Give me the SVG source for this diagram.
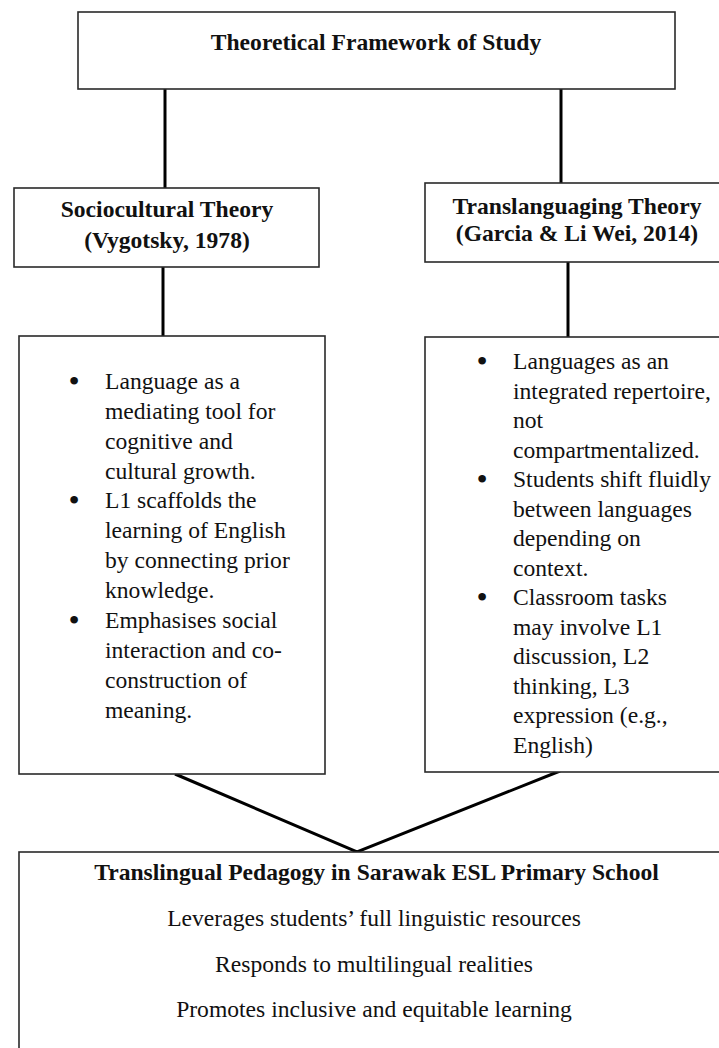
<svg xmlns="http://www.w3.org/2000/svg" width="719" height="1048" viewBox="0 0 719 1048">
<style>
.box{fill:#fff;stroke:#2a2a2a;stroke-width:1.6}
.conn{stroke:#000;stroke-width:3;fill:none;stroke-linecap:butt}
text{font-family:"Liberation Serif","Times New Roman",serif;font-size:23.6px;fill:#111}
.b{font-weight:bold}
.c{text-anchor:middle}
.dot{font-size:32px;text-anchor:middle}
</style>
<rect width="719" height="1048" fill="#fff"/>
<g id="connectors">
<line class="conn" x1="165" y1="89" x2="165" y2="188"/>
<line class="conn" x1="561" y1="89" x2="561" y2="183"/>
<line class="conn" x1="163" y1="267" x2="163" y2="336"/>
<line class="conn" x1="568" y1="262" x2="568" y2="337"/>
<polyline class="conn" points="175,774 357,852 560,771"/>
</g>
<g id="top">
<rect class="box" x="78" y="12" width="597" height="77"/>
<text class="b c" x="376" y="50">Theoretical Framework of Study</text>
</g>
<g id="sociocultural">
<rect class="box" x="14" y="188" width="305" height="79"/>
<text class="b c" x="167" y="217">Sociocultural Theory</text>
<text class="b c" x="167" y="248">(Vygotsky, 1978)</text>
</g>
<g id="translanguaging">
<rect class="box" x="425" y="183" width="310" height="79"/>
<text class="b c" x="577" y="214">Translanguaging Theory</text>
<text class="b c" x="577" y="241">(Garcia &amp; Li Wei, 2014)</text>
</g>
<g id="sociocultural-points">
<rect class="box" x="19" y="336" width="306" height="438"/>
<text class="dot" x="74" y="392">•</text>
<text x="105" y="389">Language as a</text>
<text x="105" y="419">mediating tool for</text>
<text x="105" y="449">cognitive and</text>
<text x="105" y="479">cultural growth.</text>
<text class="dot" x="74" y="511">•</text>
<text x="105" y="508">L1 scaffolds the</text>
<text x="105" y="538">learning of English</text>
<text x="105" y="568">by connecting prior</text>
<text x="105" y="598">knowledge.</text>
<text class="dot" x="74" y="631">•</text>
<text x="105" y="628">Emphasises social</text>
<text x="105" y="658">interaction and co-</text>
<text x="105" y="688">construction of</text>
<text x="105" y="718">meaning.</text>
</g>
<g id="translanguaging-points">
<rect class="box" x="425" y="337" width="310" height="435"/>
<text class="dot" x="482" y="372">•</text>
<text x="513" y="369">Languages as an</text>
<text x="513" y="398.5">integrated repertoire,</text>
<text x="513" y="428">not</text>
<text x="513" y="457.5">compartmentalized.</text>
<text class="dot" x="482" y="490">•</text>
<text x="513" y="487">Students shift fluidly</text>
<text x="513" y="516.5">between languages</text>
<text x="513" y="546">depending on</text>
<text x="513" y="575.5">context.</text>
<text class="dot" x="482" y="608">•</text>
<text x="513" y="605">Classroom tasks</text>
<text x="513" y="634.5">may involve L1</text>
<text x="513" y="664">discussion, L2</text>
<text x="513" y="693.5">thinking, L3</text>
<text x="513" y="723">expression (e.g.,</text>
<text x="513" y="752.5">English)</text>
</g>
<g id="pedagogy">
<rect class="box" x="19" y="852" width="720" height="220"/>
<text class="b c" x="376.5" y="880">Translingual Pedagogy in Sarawak ESL Primary School</text>
<text class="c" x="374" y="926">Leverages students’ full linguistic resources</text>
<text class="c" x="374" y="972">Responds to multilingual realities</text>
<text class="c" x="374" y="1017">Promotes inclusive and equitable learning</text>
</g>
</svg>
